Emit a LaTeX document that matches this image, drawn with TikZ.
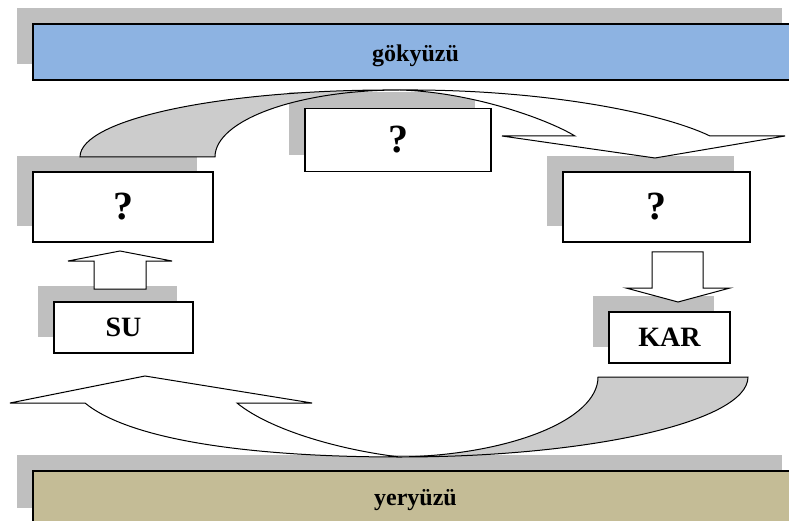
\documentclass[tikz,border=0pt]{standalone}
\usepackage{fontspec}
\setmainfont{Liberation Serif}
\usepackage{xcolor}
\usetikzlibrary{shadows}
\definecolor{skyblue}{HTML}{8DB3E2}
\definecolor{earth}{HTML}{C4BC96}
\definecolor{backside}{HTML}{CCCCCC}

\begin{document}
\begin{tikzpicture}[x=1pt,y=-1pt,
  shadebox/.style={rectangle,draw,line width=1.3pt,fill=white,inner sep=0pt,
    drop shadow={shadow xshift=-16pt,shadow yshift=16pt,fill=black!25,opacity=1}},
  bar/.style={shadebox,line width=1.8pt,minimum width=765pt,text depth=0pt,
    font=\bfseries\fontsize{24}{28}\selectfont},
  qbox/.style={shadebox,font=\bfseries\fontsize{40}{44}\selectfont},
  wordbox/.style={shadebox,minimum height=51pt,font=\bfseries\fontsize{28}{32}\selectfont},
  band/.style={draw,line width=1pt,line join=miter}]
%\draw[help lines] (0,0) grid[step=50] (789,521);
\clip (0,0) rectangle (789,521);
\path (0,0)
(415.5,52) node(sky) [bar,fill=skyblue,minimum height=56pt,text height=19pt] {gökyüzü}
(415.5,497.5) node(ground) [bar,fill=earth,minimum height=53pt,text height=15pt] {yeryüzü}
(123,207) node(qleft) [qbox,minimum width=180pt,minimum height=70pt] {?}
(398,140) node(qmid) [qbox,minimum width=186pt,minimum height=63pt] {?}
(656.5,207) node(qright) [qbox,minimum width=187pt,minimum height=70pt] {?}
(123.5,327.5) node(su) [wordbox,minimum width=139pt] {SU}
(669.5,337.5) node(kar) [wordbox,minimum width=121pt] {KAR};

\draw[band,fill=white] (94,289) -- (94,261) -- (68,261) -- (120,251) -- (172,261)
  -- (146,261) -- (146,289) -- cycle;
\draw[band,fill=white] (652,252) -- (703,252) -- (703,288) -- (730,288) -- (678,302)
  -- (626,288) -- (652,288) -- cycle;

\draw[band,fill=backside] (80,157) -- (215,157) .. controls (215,120) and (298,90) .. (400,90)
  .. controls (223,89) and (80,119) .. (80,157) -- cycle;
\draw[band,fill=white] (400,90) .. controls (540,89) and (660,112) .. (710,136) -- (785,136)
  -- (655,158) -- (502,136) -- (575,136) .. controls (545,118) and (470,92) .. (400,90) -- cycle;

\draw[band,fill=backside] (598,377) -- (748,377) .. controls (748,421) and (592,457) .. (400,457)
  .. controls (509,455) and (598,420) .. (598,377) -- cycle;
\draw[band,fill=white] (400,457) .. controls (250,457) and (130,440) .. (85,403) -- (10,403)
  -- (145,376) -- (312,403) -- (237,403) .. controls (270,430) and (340,450) .. (400,457) -- cycle;
\end{tikzpicture}
\end{document}
